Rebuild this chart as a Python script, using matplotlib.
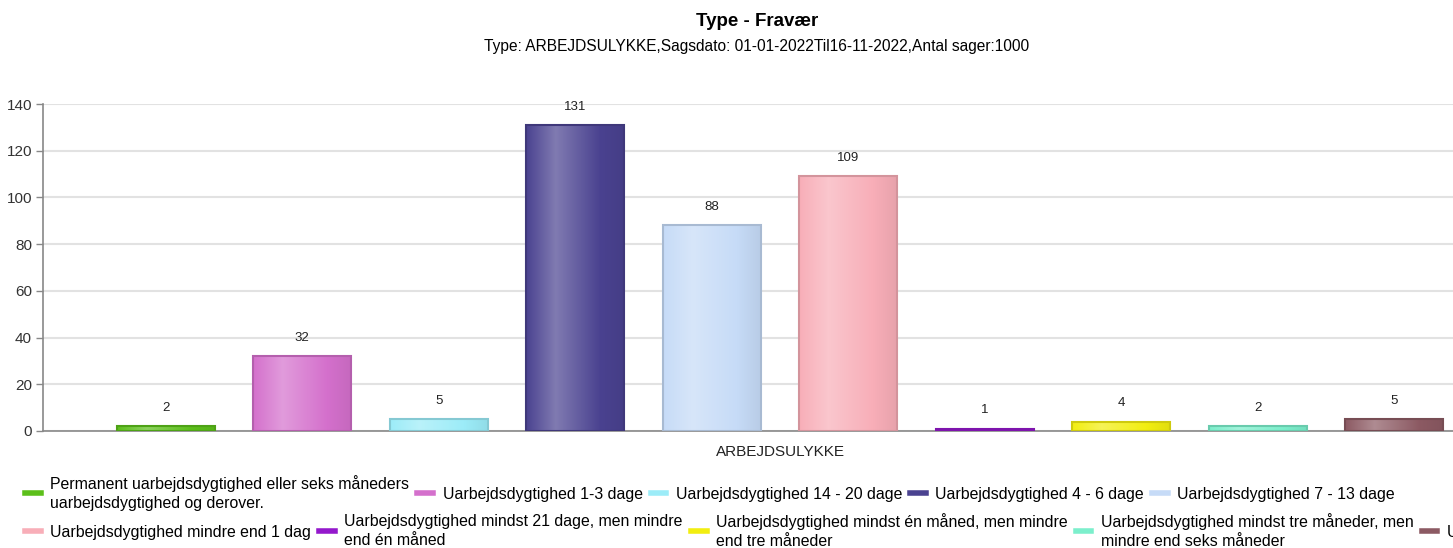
import numpy as np
import matplotlib
matplotlib.use("Agg")
from matplotlib import pyplot as plt
from matplotlib.colors import LinearSegmentedColormap, to_rgb
from matplotlib.lines import Line2D

plt.rcParams['font.family'] = ['Liberation Sans', 'DejaVu Sans']

kategori = 'ARBEJDSULYKKE'
labels = [
    'Permanent uarbejdsdygtighed eller seks måneders\nuarbejdsdygtighed og derover.',
    'Uarbejdsdygtighed 1-3 dage',
    'Uarbejdsdygtighed 14 - 20 dage',
    'Uarbejdsdygtighed 4 - 6 dage',
    'Uarbejdsdygtighed 7 - 13 dage',
    'Uarbejdsdygtighed mindre end 1 dag',
    'Uarbejdsdygtighed mindst 21 dage, men mindre\nend én måned',
    'Uarbejdsdygtighed mindst én måned, men mindre\nend tre måneder',
    'Uarbejdsdygtighed mindst tre måneder, men\nmindre end seks måneder',
    'Uoplyst',
]
values = [2, 32, 5, 131, 88, 109, 1, 4, 2, 5]
colors = ['#5cbf1a', '#d470cc', '#9cecf8', '#4a4290', '#c6dbf7',
          '#f8aeb8', '#9418cc', '#f2ee10', '#7cefcc', '#8c5a63']

fig = plt.figure(figsize=(14.53, 5.48), dpi=100)
ax = fig.add_axes([43 / 1453, 117 / 548, 1474 / 1453, 327 / 548])

x = np.arange(len(values))
bars = ax.bar(x, values, width=0.72, color=colors, zorder=2)

grad = np.linspace(0, 1, 256)
for b, c in zip(bars, colors):
    base = np.array(to_rgb(c))
    light = base + (1 - base) * 0.3
    dark = base * 0.93
    cmap = LinearSegmentedColormap.from_list('g', [(0, base), (0.3, light), (0.75, base), (1, dark)])
    im = ax.imshow(grad[None, :], cmap=cmap, aspect='auto', zorder=2.5,
                   extent=(b.get_x(), b.get_x() + b.get_width(), 0, b.get_height()))
    im.set_clip_path(b)
    b.set_edgecolor(base * 0.85)
    b.set_linewidth(1.5)
    b.set_zorder(3)
    b.set_facecolor('none')
    ax.annotate(str(b.get_height()), (b.get_x() + b.get_width() / 2, b.get_height()),
                xytext=(0, 9), textcoords='offset points', ha='center', va='bottom',
                fontsize=9.5, color='#222222')

ax.set_xlim(-0.9, 9.9)
ax.set_ylim(0, 140)
ax.set_yticks(np.arange(0, 141, 20))
ax.yaxis.grid(True, color='#e2e2e2', linewidth=1.5, zorder=0)
ax.set_axisbelow(True)
ax.set_xticks([4.5])
ax.set_xticklabels([kategori])
ax.tick_params(axis='x', length=0, pad=10, labelsize=11, labelcolor='#222222')
ax.tick_params(axis='y', length=5, width=1, color='#888888', labelsize=11, labelcolor='#333333', pad=3)
for s in ['top', 'right']:
    ax.spines[s].set_visible(False)
for s in ['left', 'bottom']:
    ax.spines[s].set_color('#888888')
    ax.spines[s].set_linewidth(1.2)

fig.text(0.521, 1 - 21 / 548, 'Type - Fravær', ha='center', va='center', fontsize=13.5, fontweight='bold')
fig.text(0.521, 1 - 47 / 548, 'Type: ARBEJDSULYKKE,Sagsdato: 01-01-2022Til16-11-2022,Antal sager:1000',
         ha='center', va='center', fontsize=11.2)

handles = [Line2D([0], [0], color=c, lw=4) for c in colors]
leg_kw = dict(ncol=5, frameon=False, fontsize=11.4, handlelength=1.0, handletextpad=0.6,
              columnspacing=0.5, borderaxespad=0, borderpad=0)
leg1 = fig.legend(handles[:5], labels[:5], loc='center left', bbox_to_anchor=(25 / 1453, 1 - 493 / 548), **leg_kw)
leg2 = fig.legend(handles[5:], labels[5:], loc='center left', bbox_to_anchor=(25 / 1453, 1 - 531 / 548), **leg_kw)
for leg in (leg1, leg2):
    for t in leg.get_texts():
        t.set_linespacing(1.3)

fig.savefig('out.png', dpi=100)
